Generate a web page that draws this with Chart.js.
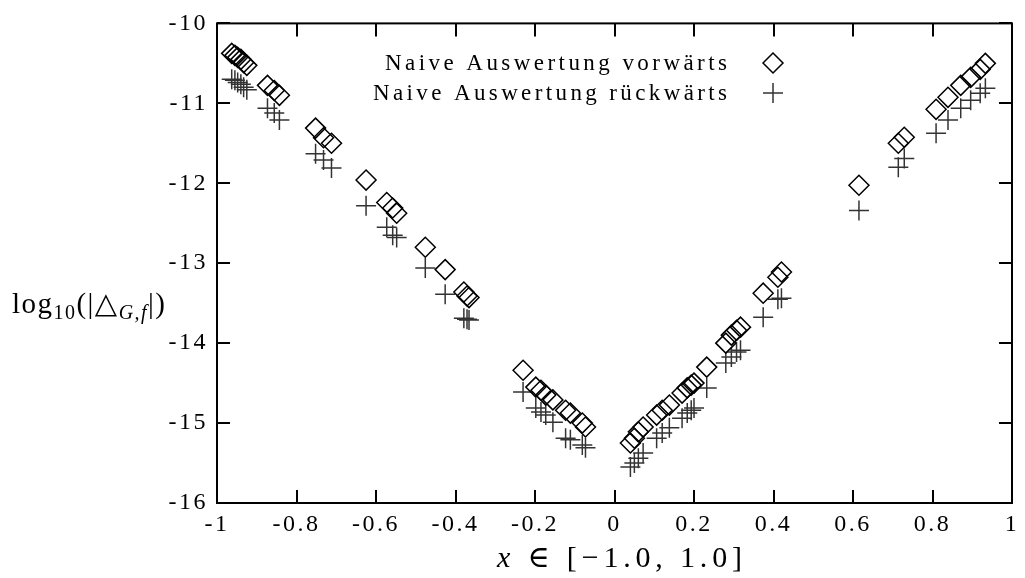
<!DOCTYPE html>
<html>
<head>
<meta charset="utf-8">
<script src="https://cdn.jsdelivr.net/npm/chart.js@4"></script>
<style>
  html, body { margin: 0; padding: 0; background: #fff; }
  #wrap { width: 1025px; height: 578px; }
</style>
</head>
<body>
<div id="wrap"><canvas id="plot"></canvas></div>
<script>
// x-Werte (gemeinsam fuer beide Reihen)
const xWerte = [
  -0.963, -0.955, -0.948, -0.940, -0.933, -0.925,
  -0.873, -0.856, -0.843,
  -0.752, -0.732, -0.712,
  -0.625,
  -0.573, -0.558, -0.548,
  -0.476, -0.426,
  -0.379, -0.371, -0.366,
  -0.230,
  -0.198, -0.185, -0.173, -0.155,
  -0.123, -0.111,
  -0.081, -0.073,
  0.040, 0.050, 0.060, 0.072,
  0.106, 0.120, 0.138,
  0.170, 0.183, 0.193, 0.200,
  0.232,
  0.280, 0.294, 0.307, 0.317,
  0.374,
  0.411, 0.420,
  0.615,
  0.714, 0.729,
  0.809, 0.839, 0.871, 0.896, 0.920, 0.933
]
// log10 Fehler, vorwaerts
const vorwaerts = [
  -10.375, -10.40, -10.425, -10.45, -10.49, -10.525,
  -10.775, -10.84, -10.90,
  -11.31, -11.43, -11.50,
  -11.96,
  -12.24, -12.31, -12.375,
  -12.80, -13.08,
  -13.36, -13.41, -13.43,
  -14.34,
  -14.55, -14.59, -14.65, -14.71,
  -14.84, -14.875,
  -15.00, -15.05,
  -15.25, -15.19, -15.11, -15.05,
  -14.90, -14.84, -14.775,
  -14.625, -14.56, -14.525, -14.50,
  -14.30,
  -14.00, -13.90, -13.84, -13.80,
  -13.375,
  -13.175, -13.11,
  -12.025,
  -11.50, -11.425,
  -11.075, -10.925, -10.775, -10.675, -10.575, -10.50
]
// log10 Fehler, rueckwaerts
const rueckwaerts = [
  -10.70, -10.71, -10.74, -10.76, -10.80, -10.83,
  -11.06, -11.12, -11.21,
  -11.63, -11.71, -11.81,
  -12.28,
  -12.55, -12.65, -12.68,
  -13.06, -13.39,
  -13.69, -13.70, -13.71,
  -14.61,
  -14.81, -14.86, -14.90, -14.99,
  -15.19, -15.21,
  -15.275, -15.31,
  -15.55, -15.50, -15.44, -15.375,
  -15.19, -15.125, -15.06,
  -14.94, -14.875, -14.84, -14.81,
  -14.56,
  -14.25, -14.175, -14.11, -14.09,
  -13.675,
  -13.45, -13.44,
  -12.34,
  -11.80, -11.69,
  -11.375, -11.21, -11.06, -10.96, -10.875, -10.81
]
const xTicks = [-1, -0.8, -0.6, -0.4, -0.2, 0, 0.2, 0.4, 0.6, 0.8, 1]
const yTicks = [-16, -15, -14, -13, -12, -11, -10]
const legendNamen = ['Naive Auswertung vorwärts', 'Naive Auswertung rückwärts']

const serif = '"Liberation Serif", "DejaVu Serif", serif'

function punkte(ys) {
  return xWerte.map((x, i) => ({ x: x, y: ys[i] }))
}

// Text aus mehreren Teilen so sperren, dass er von x0 bis x1 reicht
function textZwischen(ctx, teile, x0, x1, bl) {
  ctx.letterSpacing = '0px'
  let natur = 0, n = 0
  teile.forEach(t => { ctx.font = t[0]; natur += ctx.measureText(t[1]).width; n += [...t[1]].length })
  const sp = Math.max(0, (x1 - x0 - natur) / Math.max(1, n - 1))
  ctx.letterSpacing = sp + 'px'
  let px = x0
  teile.forEach(t => {
    ctx.font = t[0]
    ctx.fillText(t[1], px, bl + (t[2] || 0))
    px += ctx.measureText(t[1]).width
  })
  ctx.letterSpacing = '0px'
}

// Rahmen, Ticks nach innen, Legende und Achsentitel
const gnuplotStil = {
  id: 'gnuplotStil',
  beforeDraw(chart) {
    chart.ctx.letterSpacing = '2.5px'
  },
  afterDraw(chart) {
    const ctx = chart.ctx
    const a = chart.chartArea
    const sx = chart.scales.x, sy = chart.scales.y
    const tl = 13
    ctx.save()
    ctx.strokeStyle = '#000'
    ctx.lineWidth = 2
    ctx.strokeRect(a.left, a.top, a.right - a.left, a.bottom - a.top)
    ctx.beginPath()
    xTicks.forEach(v => {
      const p = Math.round(sx.getPixelForValue(v))
      ctx.moveTo(p, a.bottom); ctx.lineTo(p, a.bottom - tl)
      ctx.moveTo(p, a.top); ctx.lineTo(p, a.top + tl)
    })
    yTicks.forEach(v => {
      const p = Math.round(sy.getPixelForValue(v))
      ctx.moveTo(a.left, p); ctx.lineTo(a.left + tl, p)
      ctx.moveTo(a.right, p); ctx.lineTo(a.right - tl, p)
    })
    ctx.stroke()

    // Legende
    ctx.fillStyle = '#000'
    ctx.textAlign = 'left'
    ctx.textBaseline = 'alphabetic'
    const sxm = 773
    const ly = [63, 93]
    textZwischen(ctx, [['23px ' + serif, legendNamen[0]]], 385, 727, ly[0] + 7)
    textZwischen(ctx, [['23px ' + serif, legendNamen[1]]], 373, 727, ly[1] + 7)
    ctx.lineWidth = 1.5
    ctx.beginPath()
    ctx.moveTo(sxm - 10, ly[0]); ctx.lineTo(sxm, ly[0] - 10)
    ctx.lineTo(sxm + 10, ly[0]); ctx.lineTo(sxm, ly[0] + 10); ctx.closePath()
    ctx.stroke()
    ctx.strokeStyle = '#333'
    ctx.beginPath()
    ctx.moveTo(sxm - 10, ly[1]); ctx.lineTo(sxm + 10, ly[1])
    ctx.moveTo(sxm, ly[1] - 10); ctx.lineTo(sxm, ly[1] + 10)
    ctx.stroke()

    // x-Achsentitel
    textZwischen(ctx, [
      ['italic 30px ' + serif, 'x'],
      ['30px ' + serif, ' ∈ [−1.0, 1.0]']
    ], 497, 742, 567)

    // y-Achsentitel
    textZwischen(ctx, [
      ['29px ' + serif, 'log'],
      ['20px ' + serif, '10', 6],
      ['29px ' + serif, '(|△'],
      ['italic 20px ' + serif, 'G,f', 6],
      ['29px ' + serif, '|)']
    ], 12, 165, 313)
    ctx.restore()
  }
}

new Chart(document.getElementById('plot'), {
  type: 'scatter',
  data: {
    datasets: [{
      label: legendNamen[0],
      data: punkte(vorwaerts),
      pointStyle: 'rectRot',
      pointRadius: 10,
      pointBorderWidth: 1.5,
      borderColor: '#000',
      backgroundColor: 'rgba(0,0,0,0)'
    }, {
      label: legendNamen[1],
      data: punkte(rueckwaerts),
      pointStyle: 'cross',
      pointRadius: 10,
      pointBorderWidth: 1.5,
      borderColor: '#333',
      backgroundColor: '#333'
    }]
  },
  options: {
    responsive: true,
    maintainAspectRatio: false,
    animation: false,
    layout: { padding: { top: 23, right: 3, left: 0, bottom: 0 } },
    plugins: { legend: { display: false }, tooltip: { enabled: false } },
    scales: {
      x: {
        type: 'linear', min: -1, max: 1,
        afterFit: s => { s.height = 75 },
        afterBuildTicks: s => { s.ticks = xTicks.map(v => ({ value: v })) },
        grid: { display: false, drawTicks: false },
        border: { display: false },
        ticks: {
          padding: 7, color: '#000',
          font: { family: serif, size: 24 },
          callback: v => String(v)
        }
      },
      y: {
        type: 'linear', min: -16, max: -10,
        afterFit: s => { s.width = 217 },
        afterBuildTicks: s => { s.ticks = yTicks.map(v => ({ value: v })) },
        grid: { display: false, drawTicks: false },
        border: { display: false },
        ticks: {
          padding: 9, color: '#000',
          font: { family: serif, size: 24 },
          callback: v => String(v)
        }
      }
    }
  },
  plugins: [gnuplotStil]
})
</script>
</body>
</html>
